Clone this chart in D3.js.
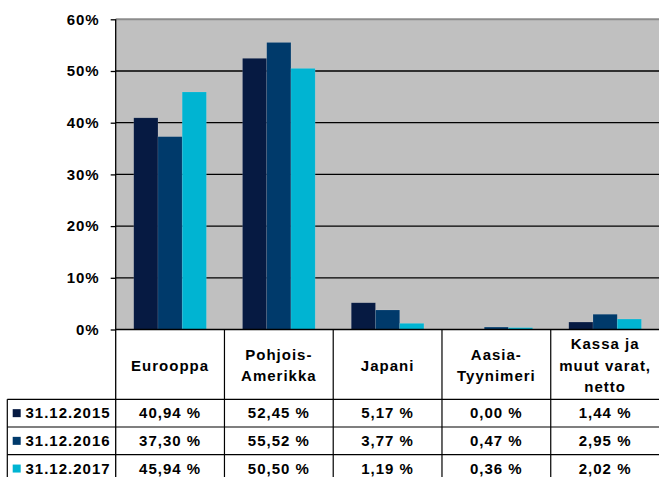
<!DOCTYPE html>
<html>
<head>
<meta charset="utf-8">
<script src="https://cdn.jsdelivr.net/npm/d3@7"></script>
<style>
  body { margin: 0; background: #fff; }
  svg { display: block; }
  text { font-family: "Liberation Sans", Arial, sans-serif; font-weight: bold; font-size: 15px; letter-spacing: 1px; fill: #000; }
</style>
</head>
<body>
<div id="chart"></div>
<script>
// categories and series
const categories = ["Eurooppa", "Pohjois-Amerikka", "Japani", "Aasia-Tyynimeri", "Kassa ja muut varat, netto"];
const categoryLines = [["Eurooppa"], ["Pohjois-", "Amerikka"], ["Japani"], ["Aasia-", "Tyynimeri"], ["Kassa ja", "muut varat,", "netto"]];
const seriesNames = ["31.12.2015", "31.12.2016", "31.12.2017"];
const values2015 = [40.94, 52.45, 5.17, 0.00, 1.44];
const values2016 = [37.30, 55.52, 3.77, 0.47, 2.95];
const values2017 = [45.94, 50.50, 1.19, 0.36, 2.02];
const yTicks = [0, 10, 20, 30, 40, 50, 60];
const colors = ["#061a42", "#003a6b", "#00b4d2"];

const seriesValues = [values2015, values2016, values2017];

const width = 659;
const height = 477;

const plot = { left: 115.7, right: 659.5, top: 19.3, bottom: 329.5 };
const headerBottom = 399.3;
const rowH = 27.7;
const tableLeft = 7.3;

var svg = d3.select("#chart")
	.append("svg")
	.attr("width", width)
	.attr("height", height);

var x = d3.scaleBand()
	.domain(categories)
	.range([plot.left, plot.right]);

var xs = d3.scaleBand()
	.domain(seriesNames)
	.range([x.bandwidth() * 0.166, x.bandwidth() * 0.834]);

var y = d3.scaleLinear()
	.domain([0, 60])
	.range([plot.bottom, plot.top]);

// plot background
svg.append("rect")
	.attr("x", plot.left)
	.attr("y", plot.top)
	.attr("width", plot.right - plot.left)
	.attr("height", plot.bottom - plot.top)
	.attr("fill", "#c0c0c0");

// gridlines
svg.selectAll(".grid")
	.data(yTicks.filter(d => d > 0))
	.enter()
	.append("line")
	.attr("x1", plot.left)
	.attr("x2", plot.right)
	.attr("y1", d => y(d))
	.attr("y2", d => y(d))
	.attr("stroke", d => d === 60 ? "#8c8c8c" : "#000")
	.attr("stroke-width", d => d === 60 ? 2 : 1.3);

// bars
seriesNames.forEach((s, i) => {
	svg.append("g")
		.selectAll("rect")
		.data(seriesValues[i])
		.enter()
		.append("rect")
		.attr("x", (d, j) => x(categories[j]) + xs(s))
		.attr("y", d => y(d))
		.attr("width", xs.bandwidth())
		.attr("height", d => y(0) - y(d))
		.attr("fill", colors[i])
		.attr("stroke", d => d > 0 ? "rgba(255,255,255,0.18)" : "none")
		.attr("stroke-width", 0.6);
});

// y axis
var yAxis = d3.axisLeft(y)
	.tickValues(yTicks)
	.tickSize(5)
	.tickPadding(11)
	.tickFormat(d => d + "%");

var yg = svg.append("g")
	.attr("transform", `translate(${plot.left},0)`)
	.call(yAxis);
yg.select(".domain").remove();
yg.selectAll(".tick line").attr("stroke", "#000").attr("stroke-width", 1.3);
yg.selectAll(".tick text")
	.attr("font-size", null)
	.attr("font-family", null)
	.attr("fill", "#000");

// axis lines
svg.append("line")
	.attr("x1", plot.left).attr("x2", plot.left)
	.attr("y1", plot.top).attr("y2", height)
	.attr("stroke", "#000").attr("stroke-width", 1.3);
svg.append("line")
	.attr("x1", plot.left).attr("x2", plot.right)
	.attr("y1", plot.bottom).attr("y2", plot.bottom)
	.attr("stroke", "#000").attr("stroke-width", 1.5);

// data table
var table = svg.append("g");

// vertical column lines
table.selectAll(".vline")
	.data(categories.slice(1))
	.enter()
	.append("line")
	.attr("x1", d => x(d)).attr("x2", d => x(d))
	.attr("y1", plot.bottom).attr("y2", height)
	.attr("stroke", "#000").attr("stroke-width", 1.2);

table.append("line")
	.attr("x1", tableLeft).attr("x2", tableLeft)
	.attr("y1", headerBottom).attr("y2", height)
	.attr("stroke", "#000").attr("stroke-width", 1.2);

// horizontal row lines
table.selectAll(".hline")
	.data([0, 1, 2])
	.enter()
	.append("line")
	.attr("x1", tableLeft).attr("x2", plot.right)
	.attr("y1", d => headerBottom + d * rowH)
	.attr("y2", d => headerBottom + d * rowH)
	.attr("stroke", "#000").attr("stroke-width", 1.2);

// header labels
var lineH = 21.2;
categories.forEach((c, j) => {
	var lines = categoryLines[j];
	var cy = (plot.bottom + headerBottom) / 2 + 1;
	var t = table.append("text")
		.attr("text-anchor", "middle")
		.attr("x", x(c) + x.bandwidth() / 2);
	lines.forEach((l, k) => {
		t.append("tspan")
			.attr("x", x(c) + x.bandwidth() / 2)
			.attr("y", cy + (k - (lines.length - 1) / 2) * lineH)
			.attr("dy", "0.35em")
			.text(l);
	});
});

// rows
seriesNames.forEach((s, i) => {
	var cy = headerBottom + i * rowH + rowH / 2;
	table.append("rect")
		.attr("x", 12.7)
		.attr("y", cy - 4)
		.attr("width", 8)
		.attr("height", 8)
		.attr("fill", colors[i]);
	table.append("text")
		.attr("x", 25.5)
		.attr("y", cy)
		.attr("dy", "0.35em")
		.text(s);
	table.selectAll(".v" + i)
		.data(seriesValues[i])
		.enter()
		.append("text")
		.attr("text-anchor", "middle")
		.attr("x", (d, j) => x(categories[j]) + x.bandwidth() / 2)
		.attr("y", cy)
		.attr("dy", "0.35em")
		.text(d => d.toFixed(2).replace(".", ",") + " %");
});
</script>
</body>
</html>
